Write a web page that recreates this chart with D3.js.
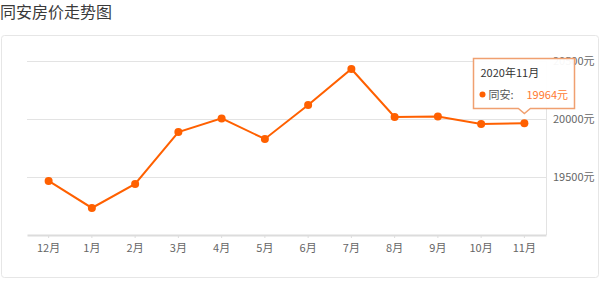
<!DOCTYPE html>
<html lang="zh">
<head>
<meta charset="UTF-8">
<title>同安房价走势图</title>
<script src="https://cdnjs.cloudflare.com/ajax/libs/d3/7.8.5/d3.min.js"></script>
<style>
    body { margin: 0; background: #fff; font-family: 'Noto Sans CJK SC', 'Open Sans', sans-serif; }
    svg { display: block; }
    .grid line { stroke: #e3e3e3; stroke-width: 1px; }
    .ylab { fill: #666; font-size: 11px; }
</style>
</head>
<body>
<svg id="chart" width="600" height="281"></svg>
<script>
    const months = ["12月", "1月", "2月", "3月", "4月", "5月", "6月", "7月", "8月", "9月", "10月", "11月"];
    const prices = [19466, 19233, 19440, 19888, 20005, 19828, 20121, 20431, 20017, 20022, 19957, 19964];
    const yTicks = [19500, 20000, 20500];
    const seriesName = "同安";
    const tipLabel = "2020年11月";

    const svg = d3.select("#chart");
    const plotLeft = 27, plotRight = 546, plotTop = 61, plotBottom = 235;
    const orange = "#ff6000";

    // title
    svg.append("text")
        .attr("x", 0).attr("y", 18)
        .attr("fill", "#3a3a3a").attr("font-size", 16)
        .text("同安房价走势图");

    // container
    svg.append("rect")
        .attr("x", 1.5).attr("y", 35.5)
        .attr("width", 597).attr("height", 242)
        .attr("rx", 3)
        .attr("fill", "none").attr("stroke", "#e6e6e6");

    const x = d3.scaleBand().domain(months).range([plotLeft, plotRight]);
    const y = d3.scaleLinear().domain([19000, 20500]).range([plotBottom, plotTop]);

    // grid
    const grid = svg.append("g").attr("class", "grid");
    grid.selectAll("line").data(yTicks).join("line")
        .attr("x1", plotLeft).attr("x2", plotRight)
        .attr("y1", d => Math.round(y(d)) + 0.5).attr("y2", d => Math.round(y(d)) + 0.5);

    // right border of plot
    svg.append("line")
        .attr("x1", plotRight + 0.5).attr("x2", plotRight + 0.5)
        .attr("y1", plotTop).attr("y2", plotBottom)
        .attr("stroke", "#e3e3e3");

    // y labels on the right
    svg.selectAll("text.ylab").data(yTicks).join("text")
        .attr("class", "ylab")
        .attr("x", 553).attr("y", d => y(d) + 4)
        .text(d => d + "元");

    // x axis
    const xAxis = svg.append("g")
        .attr("transform", `translate(0,${plotBottom})`)
        .call(d3.axisBottom(x).tickSize(3).tickPadding(6).tickSizeOuter(0));
    xAxis.select(".domain").attr("stroke", "#dcdcdc").attr("stroke-width", 2);
    xAxis.selectAll(".tick line").attr("stroke", "#dcdcdc");
    xAxis.selectAll(".tick text").attr("fill", "#666").attr("font-size", 11)
        .attr("font-family", "'Noto Sans CJK SC', sans-serif");

    const cx = (d, i) => x(months[i]) + x.bandwidth() / 2;

    // line
    const line = d3.line().x((d, i) => cx(d, i)).y(d => y(d));
    svg.append("path")
        .datum(prices)
        .attr("d", line)
        .attr("fill", "none")
        .attr("stroke", orange)
        .attr("stroke-width", 2);

    svg.selectAll("circle.pt").data(prices).join("circle")
        .attr("class", "pt")
        .attr("cx", cx).attr("cy", d => y(d))
        .attr("r", 4)
        .attr("fill", orange);

    // tooltip for last point
    const li = prices.length - 1;
    const px = cx(prices[li], li);
    const bx = 473.5, by = 58.5, bw = 101, bh = 50;
    const arrowH = 5;
    const tip = svg.append("g");
    tip.append("path")
        .attr("d", `M${bx},${by} h${bw} v${bh} H${px + 6} l-6,${arrowH} l-6,${-arrowH} H${bx} Z`)
        .attr("fill", "rgba(255,255,255,0.95)")
        .attr("stroke", "#f0a070").attr("stroke-width", 1.5);
    tip.append("text")
        .attr("x", bx + 7).attr("y", by + 18)
        .attr("fill", "#333").attr("font-size", 11)
        .text(tipLabel);
    tip.append("circle")
        .attr("cx", bx + 9).attr("cy", by + 36).attr("r", 3)
        .attr("fill", orange);
    tip.append("text")
        .attr("x", bx + 15).attr("y", by + 40)
        .attr("fill", "#555").attr("font-size", 11)
        .text(seriesName + ":");
    tip.append("text")
        .attr("x", bx + 53).attr("y", by + 40)
        .attr("fill", "#ff7a33").attr("font-size", 11)
        .text(prices[li] + "元");
</script>
</body>
</html>
